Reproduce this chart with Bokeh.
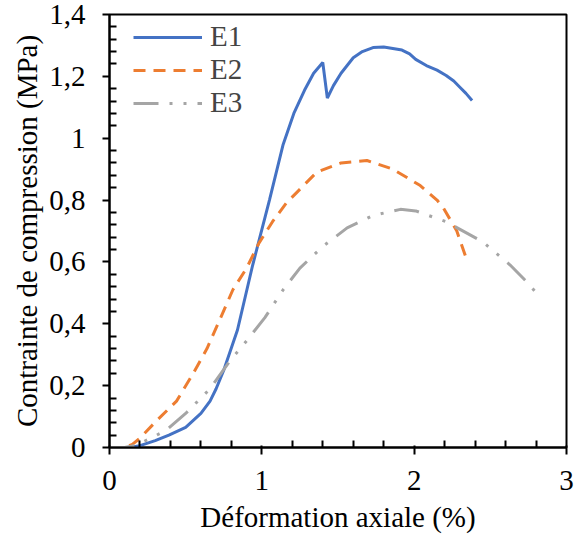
from bokeh.plotting import figure
from bokeh.models import Range1d, FixedTicker, Legend, LegendItem
from bokeh.embed import file_html
from bokeh.resources import INLINE

# ---- data ----
e1_x = [0, 0.1, 0.13, 0.2, 0.3, 0.39, 0.5, 0.6, 0.66, 0.70, 0.75, 0.84, 0.94, 1.05, 1.14, 1.21,
        1.28, 1.34, 1.40, 1.43, 1.47, 1.52, 1.60, 1.66, 1.73, 1.80, 1.86, 1.92, 1.97, 2.01,
        2.08, 2.15, 2.21, 2.26, 2.30, 2.34, 2.38]
e1_y = [0, 0, 0.0, 0.006, 0.022, 0.04, 0.065, 0.11, 0.15, 0.19, 0.25, 0.38, 0.59, 0.80, 0.98, 1.08,
        1.155, 1.21, 1.245, 1.13, 1.17, 1.21, 1.26, 1.28, 1.293, 1.295, 1.29, 1.285, 1.273, 1.255,
        1.235, 1.22, 1.203, 1.185, 1.165, 1.145, 1.122]

e2_x = [0, 0.1, 0.15, 0.2, 0.31, 0.44, 0.55, 0.64, 0.73, 0.81, 0.90, 0.98, 1.07, 1.16, 1.23,
        1.36, 1.52, 1.69, 1.86, 2.04, 2.15, 2.19, 2.28, 2.35]
e2_y = [0, 0, 0.01, 0.03, 0.087, 0.15, 0.24, 0.32, 0.42, 0.51, 0.58, 0.66, 0.73, 0.79, 0.825,
        0.89, 0.92, 0.928, 0.90, 0.847, 0.80, 0.776, 0.70, 0.60]

e3_x = [0, 0.1, 0.15, 0.2, 0.37, 0.5, 0.66, 0.79, 0.90, 1.02, 1.14, 1.25, 1.40, 1.56, 1.73,
        1.91, 2.01, 2.21, 2.45, 2.63, 2.73, 2.82]
e3_y = [0, 0, 0.005, 0.013, 0.055, 0.11, 0.19, 0.28, 0.345, 0.42, 0.51, 0.58, 0.65, 0.71, 0.75,
        0.77, 0.765, 0.73, 0.665, 0.59, 0.54, 0.49]

series_names = ["E1", "E2", "E3"]
x_ticks = [0, 1, 2, 3]
x_tick_labels = ["0", "1", "2", "3"]
y_ticks = [0, 0.2, 0.4, 0.6, 0.8, 1, 1.2, 1.4]
y_tick_labels = ["0", "0,2", "0,4", "0,6", "0,8", "1", "1,2", "1,4"]
x_minor = [0.2, 0.4, 0.6, 0.8, 1.2, 1.4, 1.6, 1.8, 2.2, 2.4, 2.6, 2.8]
y_minor = [0.04, 0.08, 0.12, 0.16, 0.24, 0.28, 0.32, 0.36, 0.44, 0.48, 0.52, 0.56,
           0.64, 0.68, 0.72, 0.76, 0.84, 0.88, 0.92, 0.96, 1.04, 1.08, 1.12, 1.16,
           1.24, 1.28, 1.32, 1.36]
x_title = "Déformation axiale (%)"
y_title = "Contrainte de compression (MPa)"

FONT = "Liberation Serif"
FS = "29px"

p = figure(width=576, height=536, output_backend="svg", toolbar_location=None,
           x_range=Range1d(0, 3), y_range=Range1d(0, 1.4),
           min_border_left=109, min_border_top=14, min_border_right=10, min_border_bottom=89)
p.xgrid.visible = False
p.ygrid.visible = False
p.outline_line_color = "#000000"
p.outline_line_width = 2

r1 = p.line(e1_x, e1_y, line_color="#4472C4", line_width=3)
r2 = p.line(e2_x, e2_y, line_color="#ED7D31", line_width=3, line_dash="12 8")
r3 = p.line(e3_x, e3_y, line_color="#A5A5A5", line_width=3, line_dash="25 11 3 11 3 11")

p.xaxis.ticker = FixedTicker(ticks=x_ticks, minor_ticks=x_minor)
p.yaxis.ticker = FixedTicker(ticks=y_ticks, minor_ticks=y_minor)
p.xaxis.major_label_overrides = {t: l for t, l in zip(x_ticks, x_tick_labels)}
p.yaxis.major_label_overrides = {t: l for t, l in zip(y_ticks, y_tick_labels)}

p.xaxis.axis_line_color = "#000000"
p.yaxis.axis_line_color = "#000000"
p.xaxis.axis_line_width = 2
p.yaxis.axis_line_width = 2
p.xaxis.major_tick_line_color = "#000000"
p.yaxis.major_tick_line_color = "#000000"
p.xaxis.minor_tick_line_color = "#000000"
p.yaxis.minor_tick_line_color = "#000000"
p.xaxis.major_tick_line_width = 2
p.yaxis.major_tick_line_width = 2
p.xaxis.minor_tick_line_width = 2
p.yaxis.minor_tick_line_width = 2
p.xaxis.major_label_text_font = FONT
p.yaxis.major_label_text_font = FONT
p.xaxis.major_label_text_font_size = FS
p.yaxis.major_label_text_font_size = FS
p.xaxis.major_label_text_color = "#000000"
p.yaxis.major_label_text_color = "#000000"
p.xaxis.axis_label_text_font = FONT
p.yaxis.axis_label_text_font = FONT
p.xaxis.axis_label_text_font_size = FS
p.yaxis.axis_label_text_font_size = FS
p.xaxis.axis_label_text_font_style = "normal"
p.yaxis.axis_label_text_font_style = "normal"
p.xaxis.axis_label_text_color = "#000000"
p.yaxis.axis_label_text_color = "#000000"

p.xaxis.axis_label = x_title
p.yaxis.axis_label = y_title
p.xaxis.major_tick_in = 2
p.xaxis.major_tick_out = 7
p.xaxis.minor_tick_in = 7
p.xaxis.minor_tick_out = 0
p.xaxis.major_label_standoff = 16
p.xaxis.axis_label_standoff = 8
p.yaxis.major_tick_in = 0
p.yaxis.major_tick_out = 7
p.yaxis.minor_tick_in = 7
p.yaxis.minor_tick_out = 0
p.yaxis.major_label_standoff = 17
p.yaxis.axis_label_standoff = 3

legend = Legend(items=[LegendItem(label=n, renderers=[r]) for n, r in zip(series_names, [r1, r2, r3])],
                location=(24, 328), glyph_width=69, glyph_height=32, label_height=32,
                spacing=0, padding=0, margin=0, label_standoff=8,
                label_text_font=FONT, label_text_font_size=FS,
                border_line_color=None, background_fill_alpha=0)
p.add_layout(legend)

open("out.html", "w").write(file_html(p, INLINE))
